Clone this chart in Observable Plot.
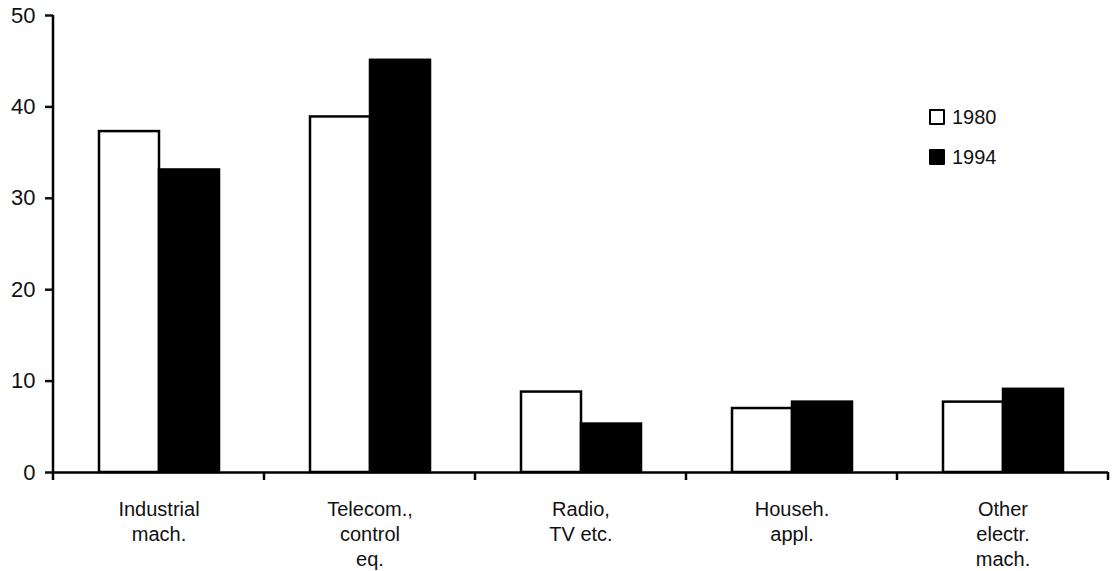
<!DOCTYPE html>
<html>
<head>
<meta charset="utf-8">
<script src="https://cdn.jsdelivr.net/npm/d3@7"></script>
<script src="https://cdn.jsdelivr.net/npm/@observablehq/plot@0.6"></script>
<style>
  html, body { margin: 0; padding: 0; background: #fff; }
  #wrap { position: relative; width: 1115px; height: 571px; font-family: "Liberation Sans", Arial, sans-serif; }
  #legend { position: absolute; left: 929px; top: 109px; font-size: 20px; color: #111; }
  .row { display: flex; align-items: center; height: 16px; margin-bottom: 24px; }
  .sw { width: 16px; height: 16px; box-sizing: border-box; margin-right: 7px; border-radius: 1px; }
</style>
</head>
<body>
<div id="wrap"><div id="legend"></div></div>
<script>
const categories = ["Industrial mach.", "Telecom., control eq.", "Radio, TV etc.", "Househ. appl.", "Other electr. mach."];
const categoryLabels = ["Industrial\nmach.", "Telecom.,\ncontrol\neq.", "Radio,\nTV etc.", "Househ.\nappl.", "Other\nelectr.\nmach."];
const years = ["1980", "1994"];
const values1980 = [37.3, 38.9, 8.8, 7.0, 7.7];
const values1994 = [33.1, 45.1, 5.3, 7.7, 9.1];
const yTicks = [0, 10, 20, 30, 40, 50];
const colors = ["white", "black"];

const data = [];
categories.forEach((c, i) => {
  data.push({cat: c, year: years[0], value: values1980[i]});
  data.push({cat: c, year: years[1], value: values1994[i]});
});
const labelOf = new Map(categories.map((c, i) => [c, categoryLabels[i]]));

const plot = Plot.plot({
  width: 1115,
  height: 571,
  marginLeft: 51,
  marginRight: 5,
  marginTop: 15,
  marginBottom: 99,
  style: {fontFamily: "Liberation Sans, Arial, sans-serif", color: "#111", background: "white"},
  fx: {domain: categories, padding: 0, label: null},
  x: {domain: years, paddingInner: 0, paddingOuter: 0.736, axis: null},
  y: {domain: [0, 50], label: null},
  color: {domain: years, range: colors},
  marks: [
    Plot.barY(data, {fx: "cat", x: "year", y: "value", fill: "year", stroke: "black", strokeWidth: 2.5}),
    Plot.ruleY([0], {stroke: "black", strokeWidth: 2.5}),
    Plot.axisY({ticks: yTicks, tickSize: 8, tickPadding: 10, fontSize: 22, strokeWidth: 2.5, label: null}),
    Plot.axisFx({anchor: "bottom", tickSize: 0, tickPadding: 25, fontSize: 20, lineHeight: 1.27, lineAnchor: "top", tickFormat: d => labelOf.get(d), label: null})
  ]
});

// axis lines and category-boundary ticks from the library's scales
const fx = plot.scale("fx");
const ys = plot.scale("y");
const y0 = ys.apply(0), y50 = ys.apply(50);
const bounds = categories.map(c => fx.apply(c)).concat([fx.apply(categories[categories.length - 1]) + fx.bandwidth]);
const g = d3.select(plot).append("g").attr("stroke", "black").attr("stroke-width", 2.5);
g.append("line").attr("x1", bounds[0]).attr("x2", bounds[0]).attr("y1", y50).attr("y2", y0 + 8);
bounds.slice(1).forEach(b => g.append("line").attr("x1", b).attr("x2", b).attr("y1", y0).attr("y2", y0 + 8));

document.getElementById("wrap").prepend(plot);

const legend = document.getElementById("legend");
years.forEach((yr, i) => {
  const row = document.createElement("div");
  row.className = "row";
  const sw = document.createElement("div");
  sw.className = "sw";
  sw.style.background = colors[i];
  sw.style.border = "2.5px solid black";
  const t = document.createElement("span");
  t.textContent = yr;
  row.appendChild(sw);
  row.appendChild(t);
  legend.appendChild(row);
});
</script>
</body>
</html>
